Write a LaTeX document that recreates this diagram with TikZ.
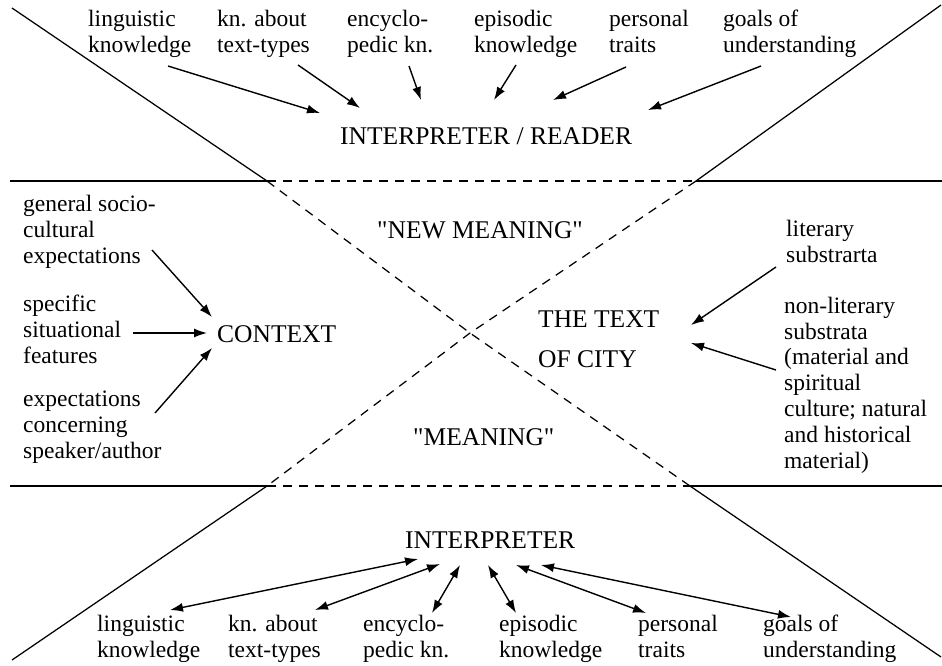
\documentclass[tikz,border=0pt]{standalone}
\usepackage{fontspec}
\setmainfont{Liberation Serif}[Ligatures=TeXOff]
\usetikzlibrary{arrows.meta}
\begin{document}
\begin{tikzpicture}[x=1pt,y=-1pt,
  lbl/.style={inner sep=0pt, anchor=base west, align=left, font=\fontsize{23.5}{25.8}\selectfont},
  bigtext/.style={inner sep=0pt, anchor=base west, align=left, font=\fontsize{25.5}{40}\selectfont},
  ln/.style={line width=1.25pt},
  dsh/.style={line width=1.25pt, dash pattern=on 9pt off 7pt},
  arr/.style={line width=1.4pt, -{Latex[length=13pt,width=9pt]}},
  darr/.style={line width=1.4pt, {Latex[length=13pt,width=9pt]}-{Latex[length=13pt,width=9pt]}}]
\useasboundingbox (0,0) rectangle (942,665);
% frame coordinates
\coordinate (tl) at (12,8);
\coordinate (tr) at (941,5);
\coordinate (bl) at (12,660);
\coordinate (br) at (941,657);
\coordinate (jtl) at (267,181);
\coordinate (jtr) at (696,181);
\coordinate (jbl) at (267,486);
\coordinate (jbr) at (690,486);
\coordinate (ctr) at (470,333);
\coordinate (htl) at (10,181);
\coordinate (htr) at (942,181);
\coordinate (hbl) at (10,486);
\coordinate (hbr) at (942,486);
% solid parts
\draw[ln] (tl) -- (jtl);
\draw[ln] (tr) -- (jtr);
\draw[ln] (bl) -- (jbl);
\draw[ln] (br) -- (jbr);
\draw[ln] (htl) -- (jtl);
\draw[ln] (jtr) -- (htr);
\draw[ln] (hbl) -- (jbl);
\draw[ln] (jbr) -- (hbr);
% dashed parts
\draw[dsh] (jtl) -- (jtr);
\draw[dsh] (jbl) -- (jbr);
\draw[dsh] (jtl) -- (ctr) -- (jbr);
\draw[dsh] (jtr) -- (ctr) -- (jbl);

% top labels (anchor = baseline of last line)
\node[lbl] (lk) at (88,52) {linguistic\\knowledge};
\node[lbl] (tt) at (217,52) {kn. about\\text-types};
\node[lbl] (en) at (347,52) {encyclo-\\pedic kn.};
\node[lbl] (ep) at (474,52) {episodic\\knowledge};
\node[lbl] (pt) at (609,52) {personal\\traits};
\node[lbl] (gu) at (723,52) {goals of\\understanding};
\node[bigtext] (ir) at (340,144) {INTERPRETER / READER};

% middle labels
\node[lbl] (gs) at (23,263) {general socio-\\cultural\\expectations};
\node[lbl] (sf) at (23,363) {specific\\situational\\features};
\node[lbl] (ec) at (23,458) {expectations\\concerning\\speaker/author};
\node[bigtext] (ctx) at (217,342) {CONTEXT};
\node[bigtext] (nm) at (377,238) {"NEW MEANING"};
\node[bigtext] (mn) at (413,445) {"MEANING"};
\node[bigtext] (txt) at (538,367) {THE TEXT\\OF CITY};
\node[lbl] (ls) at (786,262) {literary\\substrarta};
\node[lbl] (nl) at (784,468) {non-literary\\substrata\\(material and\\spiritual\\culture; natural\\and historical\\material)};

% bottom labels
\node[bigtext] (in) at (405,548) {INTERPRETER};
\node[lbl] (blk) at (97,657) {linguistic\\knowledge};
\node[lbl] (btt) at (228,657) {kn. about\\text-types};
\node[lbl] (ben) at (363,657) {encyclo-\\pedic kn.};
\node[lbl] (bep) at (499,657) {episodic\\knowledge};
\node[lbl] (bpt) at (638,657) {personal\\traits};
\node[lbl] (bgu) at (763,657) {goals of\\understanding};

% arrow coordinates (top)
\coordinate (a1s) at (168,66);  \coordinate (a1e) at (320,113);
\coordinate (a2s) at (298,65);  \coordinate (a2e) at (360,108);
\coordinate (a3s) at (409,66);  \coordinate (a3e) at (421,100);
\coordinate (a4s) at (516,65);  \coordinate (a4e) at (494,100);
\coordinate (a5s) at (626,67);  \coordinate (a5e) at (553,100);
\coordinate (a6s) at (761,66);  \coordinate (a6e) at (648,110);
\draw[arr] (a1s) -- (a1e);
\draw[arr] (a2s) -- (a2e);
\draw[arr] (a3s) -- (a3e);
\draw[arr] (a4s) -- (a4e);
\draw[arr] (a5s) -- (a5e);
\draw[arr] (a6s) -- (a6e);

% context arrows
\coordinate (c1s) at (152,250); \coordinate (c1e) at (212,317);
\coordinate (c2s) at (133,333); \coordinate (c2e) at (207,333);
\coordinate (c3s) at (155,413); \coordinate (c3e) at (212,348);
\draw[arr] (c1s) -- (c1e);
\draw[arr] (c2s) -- (c2e);
\draw[arr] (c3s) -- (c3e);

% text arrows
\coordinate (t1s) at (776,267); \coordinate (t1e) at (691,325);
\coordinate (t2s) at (776,370); \coordinate (t2e) at (691,343);
\draw[arr] (t1s) -- (t1e);
\draw[arr] (t2s) -- (t2e);

% bottom double arrows
\coordinate (b1s) at (170,610); \coordinate (b1e) at (418,559);
\coordinate (b2s) at (315,610); \coordinate (b2e) at (440,564);
\coordinate (b3s) at (432,613); \coordinate (b3e) at (460,565);
\coordinate (b4s) at (516,613); \coordinate (b4e) at (488,565);
\coordinate (b5s) at (646,613); \coordinate (b5e) at (516,565);
\coordinate (b6s) at (791,617); \coordinate (b6e) at (541,565);
\draw[darr] (b1s) -- (b1e);
\draw[darr] (b2s) -- (b2e);
\draw[darr] (b3s) -- (b3e);
\draw[darr] (b4s) -- (b4e);
\draw[darr] (b5s) -- (b5e);
\draw[darr] (b6s) -- (b6e);
\end{tikzpicture}
\end{document}
